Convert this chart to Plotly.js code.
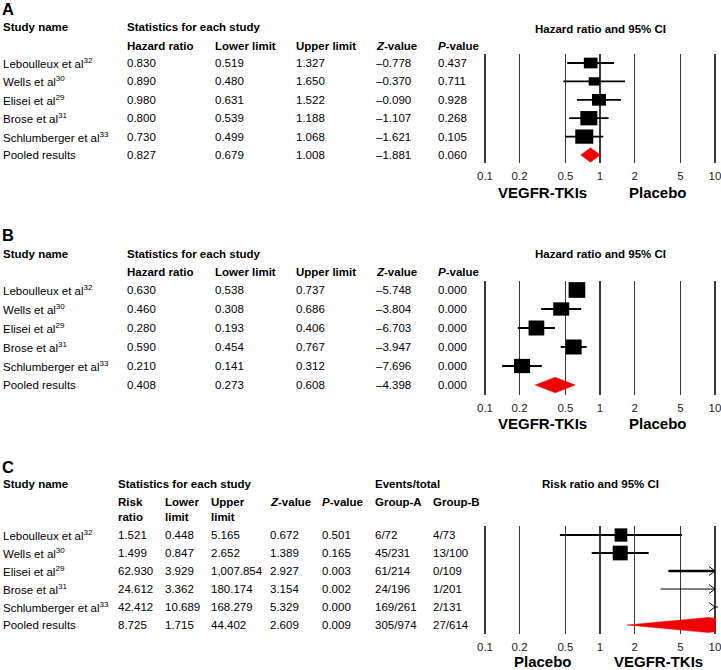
<!DOCTYPE html>
<html><head><meta charset="utf-8">
<script src="https://cdn.plot.ly/plotly-3.0.1.min.js"></script>
<style>html,body{margin:0;padding:0;background:#fff}</style>
</head><body><div id="chart" style="width:721px;height:670px"></div>
<script>
// ---------------- DATA ----------------
const studies = ['Leboulleux et al<sup>32</sup>', 'Wells et al<sup>30</sup>', 'Elisei et al<sup>29</sup>',
                 'Brose et al<sup>31</sup>', 'Schlumberger et al<sup>33</sup>', 'Pooled results'];

// Panel A
const hrA  = [0.830, 0.890, 0.980, 0.800, 0.730, 0.827];
const lowA = [0.519, 0.480, 0.631, 0.539, 0.499, 0.679];
const upA  = [1.327, 1.650, 1.522, 1.188, 1.068, 1.008];
const zA   = [-0.778, -0.370, -0.090, -1.107, -1.621, -1.881];
const pA   = [0.437, 0.711, 0.928, 0.268, 0.105, 0.060];

// Panel B
const hrB  = [0.630, 0.460, 0.280, 0.590, 0.210, 0.408];
const lowB = [0.538, 0.308, 0.193, 0.454, 0.141, 0.273];
const upB  = [0.737, 0.686, 0.406, 0.767, 0.312, 0.608];
const zB   = [-5.748, -3.804, -6.703, -3.947, -7.696, -4.398];
const pB   = [0.000, 0.000, 0.000, 0.000, 0.000, 0.000];

// Panel C
const rrC  = [1.521, 1.499, 62.930, 24.612, 42.412, 8.725];
const lowC = [0.448, 0.847, 3.929, 3.362, 10.689, 1.715];
const upC  = [5.165, 2.652, 1007.854, 180.174, 168.279, 44.402];
const zC   = [0.672, 1.389, 2.927, 3.154, 5.329, 2.609];
const pC   = [0.501, 0.165, 0.003, 0.002, 0.000, 0.009];
const groupA = ['6/72', '45/231', '61/214', '24/196', '169/261', '305/974'];
const groupB = ['4/73', '13/100', '0/109', '1/201', '2/131', '27/614'];

const tickVals = [0.1, 0.2, 0.5, 1, 2, 5, 10];
const tickText = ['0.1', '0.2', '0.5', '1', '2', '5', '10'];

// ---------------- STYLE ----------------
const W = 721, H = 670;
const FONT = 'Liberation Sans, Arial, sans-serif';
const T0 = 485, T1 = 715;          // pixel positions of first / last tick
const PADPX = 3;                    // keep edge gridlines inside the plot area
const LOG0 = Math.log10(tickVals[0]), LOG1 = Math.log10(tickVals[tickVals.length - 1]);
const PXDEC = (T1 - T0) / (LOG1 - LOG0);
const LOGMIN = LOG0 - PADPX / PXDEC, LOGMAX = LOG1 + PADPX / PXDEC;
const X0 = T0 - PADPX, X1 = T1 + PADPX;
const AXMAX = tickVals[tickVals.length - 1];

const boxWA = [13.7, 11, 14, 17, 18], boxHA = [10.7, 8.3, 11.7, 14.3, 14.3];
const boxWB = [16.7, 16, 15.7, 16, 16], boxHB = [15.7, 13.3, 15, 15, 14.3];
const boxWC = [12.7, 15, 14, 14, 14], boxHC = [13.3, 14.7, 14, 14, 14];
const ciWA = [1.8, 1.8, 1.8, 1.8, 1.8];
const ciWB = [1.8, 1.8, 1.8, 1.8, 1.8];
const ciWC = [2, 2, 2.4, 1, 1];

const px = x => x / W;
const py = y => 1 - y / H;

const panels = [
  {id: '', letter: 'A', letterY: 9, headY: 27, subY: 46, row0: 63, step: 18.4, top: 54, bot: 163,
   est: hrA, low: lowA, up: upA, bw: boxWA, bh: boxHA, ciw: ciWA, dh: 7.2,
   plotTitle: 'Hazard ratio and 95% CI', leftLab: 'VEGFR-TKIs', rightLab: 'Placebo', labY: 193},
  {id: '2', letter: 'B', letterY: 235, headY: 254, subY: 272, row0: 290, step: 19, top: 281, bot: 395,
   est: hrB, low: lowB, up: upB, bw: boxWB, bh: boxHB, ciw: ciWB, dh: 7.8,
   plotTitle: 'Hazard ratio and 95% CI', leftLab: 'VEGFR-TKIs', rightLab: 'Placebo', labY: 423},
  {id: '3', letter: 'C', letterY: 467, headY: 484, subY: 502, row0: 535, step: 18, top: 526, bot: 634,
   est: rrC, low: lowC, up: upC, bw: boxWC, bh: boxHC, ciw: ciWC, dh: 7.5,
   plotTitle: 'Risk ratio and 95% CI', leftLab: 'Placebo', rightLab: 'VEGFR-TKIs', labY: 661.5}
];

const fmt = v => v.toLocaleString('en-US', {minimumFractionDigits: 3, maximumFractionDigits: 3});
const fmtZ = v => fmt(v).replace('-', '\u2013');

const traces = [];
const annotations = [];
const layout = {
  width: W, height: H, margin: {l: 0, r: 0, t: 0, b: 0},
  paper_bgcolor: '#fff', plot_bgcolor: 'rgba(0,0,0,0)', showlegend: false,
  font: {family: FONT, size: 11.5, color: '#000'},
  annotations: annotations
};

function txt(x, y, text, opts) {
  opts = opts || {};
  annotations.push({
    xref: 'paper', yref: 'paper', x: px(x), y: py(y),
    text: text, showarrow: false, xanchor: opts.anchor || 'left', yanchor: 'middle',
    font: {family: FONT, size: opts.size || 11.5, color: '#000'}
  });
}

panels.forEach(P => {
  const xa = 'x' + P.id, ya = 'y' + P.id;
  const yr = [(P.bot - P.row0) / P.step, (P.top - P.row0) / P.step];
  layout['xaxis' + P.id] = {
    type: 'log', range: [LOGMIN, LOGMAX], domain: [px(X0), px(X1)], anchor: ya,
    tickvals: tickVals, ticktext: tickText, showgrid: true, gridcolor: '#3a3a3a', gridwidth: 1.2,
    zeroline: false, showline: false, ticks: 'outside', ticklen: 2, tickcolor: 'rgba(0,0,0,0)',
    ticklabeloverflow: 'allow',
    tickfont: {family: FONT, size: 11.5, color: '#222'}, fixedrange: true
  };
  layout['yaxis' + P.id] = {
    range: yr, domain: [py(P.bot), py(P.top)], anchor: xa, showgrid: false, zeroline: false,
    showticklabels: false, ticks: '', fixedrange: true
  };
  const nStudies = P.est.length - 1;
  // CI lines
  for (let i = 0; i < nStudies; i++) {
    traces.push({type: 'scatter', mode: 'lines', xaxis: xa, yaxis: ya,
      x: [P.low[i], Math.min(P.up[i], AXMAX)], y: [i, i], line: {color: '#000', width: P.ciw[i]}, hoverinfo: 'skip'});
  }
  // boxes
  for (let i = 0; i < nStudies; i++) {
    const f = Math.pow(10, (P.bw[i] / 2) / PXDEC);
    const hh = (P.bh[i] / 2) / P.step;
    const v = P.est[i];
    traces.push({type: 'scatter', mode: 'lines', xaxis: xa, yaxis: ya, fill: 'toself',
      fillcolor: '#000', line: {color: '#000', width: 0},
      x: [v / f, v * f, v * f, v / f, v / f], y: [i - hh, i - hh, i + hh, i + hh, i - hh], hoverinfo: 'skip'});
  }
  // arrows for CIs beyond the axis
  for (let i = 0; i < nStudies; i++) {
    if (P.up[i] > AXMAX) {
      const f2 = Math.pow(10, 6 / PXDEC);
      const a = 4.5 / P.step;
      traces.push({type: 'scatter', mode: 'lines', xaxis: xa, yaxis: ya,
        x: [AXMAX / f2, AXMAX, AXMAX / f2], y: [i - a, i, i + a], line: {color: '#000', width: 1}, hoverinfo: 'skip'});
    }
  }
  // pooled diamond (clipped at the axis end)
  const k = nStudies, dh = P.dh / P.step;
  let dx = [P.low[k], P.est[k], P.up[k], P.est[k], P.low[k]];
  let dy = [k, k - dh, k, k + dh, k];
  if (P.up[k] > AXMAX) {
    const t = (Math.log10(AXMAX) - Math.log10(P.est[k])) / (Math.log10(P.up[k]) - Math.log10(P.est[k]));
    const hEnd = dh * (1 - t);
    dx = [P.low[k], P.est[k], AXMAX, AXMAX, P.est[k], P.low[k]];
    dy = [k, k - dh, k - hEnd, k + hEnd, k + dh, k];
  }
  traces.push({type: 'scatter', mode: 'lines', xaxis: xa, yaxis: ya, fill: 'toself',
    fillcolor: '#f00000', line: {color: '#f00000', width: 0.5},
    x: dx, y: dy, hoverinfo: 'skip'});

  // headings
  txt(0, P.letterY, '<b>' + P.letter + '</b>', {size: 16.5});
  txt(1, P.headY, '<b>Study name</b>');
  txt(600, P.headY + (P.letter === 'A' ? 2 : 0), '<b>' + P.plotTitle + '</b>', {anchor: 'center'});
  // bottom labels
  txt(542.5, P.labY, '<b>' + P.leftLab + '</b>', {anchor: 'center', size: 15});
  txt(658, P.labY, '<b>' + P.rightLab + '</b>', {anchor: 'center', size: 15});
});

function column(P, x, vals) {
  const ya = 'y' + P.id;
  vals.forEach((t, i) => {
    annotations.push({xref: 'paper', yref: ya, x: px(x), y: i, text: t, showarrow: false,
      xanchor: 'left', yanchor: 'middle', font: {family: FONT, size: 11.5, color: '#000'}});
  });
}

// Panel A & B tables
[[panels[0], hrA, lowA, upA, zA, pA], [panels[1], hrB, lowB, upB, zB, pB]].forEach(([P, e, l, u, z, p]) => {
  txt(125, P.headY, '<b>Statistics for each study</b>');
  txt(125, P.subY, '<b>Hazard ratio</b>');
  txt(213, P.subY, '<b>Lower limit</b>');
  txt(294, P.subY, '<b>Upper limit</b>');
  txt(374, P.subY, '<b><i>Z</i>-value</b>');
  txt(436, P.subY, '<b><i>P</i>-value</b>');
  column(P, 1, studies);
  column(P, 125, e.map(fmt));
  column(P, 213, l.map(fmt));
  column(P, 294, u.map(fmt));
  column(P, 374, z.map(fmtZ));
  column(P, 436, p.map(fmt));
});

// Panel C table
(function () {
  const P = panels[2];
  txt(116, P.headY, '<b>Statistics for each study</b>');
  txt(373, P.headY, '<b>Events/total</b>');
  txt(116, 502, '<b>Risk</b>'); txt(116, 517, '<b>ratio</b>');
  txt(163, 502, '<b>Lower</b>'); txt(163, 517, '<b>limit</b>');
  txt(209, 502, '<b>Upper</b>'); txt(209, 517, '<b>limit</b>');
  txt(268, 502, '<b><i>Z</i>-value</b>');
  txt(320, 502, '<b><i>P</i>-value</b>');
  txt(373, 502, '<b>Group-A</b>');
  txt(431, 502, '<b>Group-B</b>');
  column(P, 1, studies);
  column(P, 116, rrC.map(fmt));
  column(P, 163, lowC.map(fmt));
  column(P, 209, upC.map(fmt));
  column(P, 268, zC.map(fmtZ));
  column(P, 320, pC.map(fmt));
  column(P, 373, groupA);
  column(P, 431, groupB);
})();

Plotly.newPlot('chart', traces, layout, {displayModeBar: false, staticPlot: true});
</script>
</body></html>
